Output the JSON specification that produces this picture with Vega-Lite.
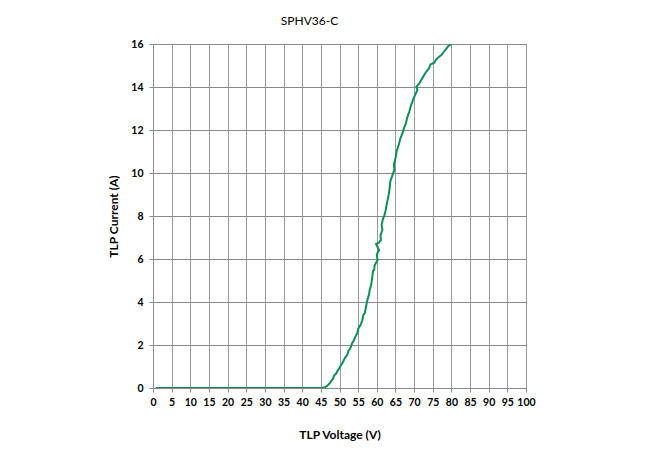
{
  "$schema": "https://vega.github.io/schema/vega-lite/v6.json",
  "autosize": {"type": "none"},
  "width": 373,
  "height": 344,
  "padding": {"left": 153, "top": 44, "right": 119, "bottom": 66},
  "background": "white",
  "title": {"text": "SPHV36-C", "font": "Lato", "fontSize": 12, "fontWeight": "normal", "color": "#000000", "offset": 11, "dx": -30, "anchor": "middle"},
  "data": {"values": [
    {"v": 0.7, "a": 0}, {"v": 5, "a": 0}, {"v": 10, "a": 0}, {"v": 15, "a": 0}, {"v": 20, "a": 0},
    {"v": 25, "a": 0}, {"v": 30, "a": 0}, {"v": 35, "a": 0}, {"v": 40, "a": 0}, {"v": 45, "a": 0},
    {"v": 45.8, "a": 0.02}, {"v": 46.3, "a": 0.05}, {"v": 47.0, "a": 0.15}, {"v": 47.4, "a": 0.23},
    {"v": 48.0, "a": 0.38}, {"v": 48.3, "a": 0.45}, {"v": 48.6, "a": 0.6}, {"v": 49.0, "a": 0.65},
    {"v": 49.4, "a": 0.77}, {"v": 50.1, "a": 0.98}, {"v": 50.8, "a": 1.16}, {"v": 51.4, "a": 1.38},
    {"v": 52.1, "a": 1.55}, {"v": 52.4, "a": 1.72}, {"v": 52.9, "a": 1.85}, {"v": 53.4, "a": 2.1},
    {"v": 53.8, "a": 2.2}, {"v": 54.3, "a": 2.4}, {"v": 54.8, "a": 2.56}, {"v": 55.0, "a": 2.75},
    {"v": 55.7, "a": 2.95}, {"v": 56.1, "a": 3.15}, {"v": 56.4, "a": 3.4}, {"v": 56.8, "a": 3.49},
    {"v": 57.2, "a": 3.86}, {"v": 57.5, "a": 4.1}, {"v": 57.9, "a": 4.35}, {"v": 58.1, "a": 4.56},
    {"v": 58.5, "a": 4.8}, {"v": 58.8, "a": 5.18}, {"v": 59.0, "a": 5.45}, {"v": 59.3, "a": 5.49},
    {"v": 59.4, "a": 5.7}, {"v": 60.2, "a": 5.95}, {"v": 60.0, "a": 6.2}, {"v": 60.6, "a": 6.42},
    {"v": 59.8, "a": 6.7}, {"v": 60.5, "a": 6.75}, {"v": 61.1, "a": 6.88}, {"v": 61.0, "a": 7.1},
    {"v": 61.5, "a": 7.35}, {"v": 61.3, "a": 7.6}, {"v": 61.7, "a": 7.89}, {"v": 62.0, "a": 8.0},
    {"v": 62.4, "a": 8.28}, {"v": 62.6, "a": 8.5}, {"v": 62.9, "a": 8.74}, {"v": 63.2, "a": 9.0},
    {"v": 63.5, "a": 9.36}, {"v": 63.6, "a": 9.6}, {"v": 64.0, "a": 9.8}, {"v": 64.4, "a": 10.0},
    {"v": 64.7, "a": 10.14}, {"v": 64.6, "a": 10.4}, {"v": 65.1, "a": 10.76}, {"v": 65.3, "a": 11.0},
    {"v": 66.0, "a": 11.38}, {"v": 66.3, "a": 11.6}, {"v": 66.9, "a": 11.85}, {"v": 67.3, "a": 12.1},
    {"v": 67.8, "a": 12.31}, {"v": 68.2, "a": 12.6}, {"v": 68.7, "a": 12.85}, {"v": 69.1, "a": 13.1},
    {"v": 69.7, "a": 13.4}, {"v": 70.2, "a": 13.6}, {"v": 70.9, "a": 13.86}, {"v": 70.6, "a": 14.0},
    {"v": 71.4, "a": 14.17}, {"v": 72.0, "a": 14.35}, {"v": 72.7, "a": 14.56}, {"v": 73.3, "a": 14.72},
    {"v": 74.0, "a": 14.87}, {"v": 74.4, "a": 15.05}, {"v": 75.4, "a": 15.13}, {"v": 76.0, "a": 15.3},
    {"v": 76.7, "a": 15.41}, {"v": 77.4, "a": 15.5}, {"v": 78.0, "a": 15.64}, {"v": 78.5, "a": 15.75},
    {"v": 79.2, "a": 15.91}, {"v": 80.0, "a": 16.0}
  ]},
  "mark": {"type": "line", "color": "#0b8f55", "strokeWidth": 2, "clip": true},
  "encoding": {
    "x": {
      "field": "v", "type": "quantitative",
      "scale": {"domain": [0, 100], "nice": false, "zero": true},
      "axis": {
        "title": "TLP Voltage (V)", "values": [0,5,10,15,20,25,30,35,40,45,50,55,60,65,70,75,80,85,90,95,100],
        "grid": true, "gridColor": "#9a9a9a", "gridWidth": 1, "gridOpacity": 1,
        "domainColor": "#8a8a8a", "domainWidth": 1,
        "ticks": true, "tickColor": "#8a8a8a", "tickSize": 4,
        "labelFont": "Lato", "labelFontSize": 10.5, "labelFontWeight": "bold", "labelColor": "#000000",
        "labelPadding": 5, "labelFlush": false, "labelOverlap": false,
        "titleFont": "Lato", "titleFontSize": 12, "titleFontWeight": "bold", "titleColor": "#000000",
        "titlePadding": 22
      }
    },
    "y": {
      "field": "a", "type": "quantitative",
      "scale": {"domain": [0, 16], "nice": false},
      "axis": {
        "title": "TLP Current (A)", "values": [0,2,4,6,8,10,12,14,16],
        "grid": true, "gridColor": "#8a8a8a", "gridWidth": 1, "gridOpacity": 1,
        "domainColor": "#8a8a8a", "domainWidth": 1,
        "ticks": true, "tickColor": "#8a8a8a", "tickSize": 4,
        "labelFont": "Lato", "labelFontSize": 10.5, "labelFontWeight": "bold", "labelColor": "#000000",
        "labelPadding": 6, "labelFlush": false, "labelOverlap": false,
        "titleFont": "Lato", "titleFontSize": 12, "titleFontWeight": "bold", "titleColor": "#000000",
        "titlePadding": 10
      }
    },
    "order": {"value": null}
  },
  "config": {"view": {"stroke": "#9a9a9a", "strokeWidth": 1}}
}
